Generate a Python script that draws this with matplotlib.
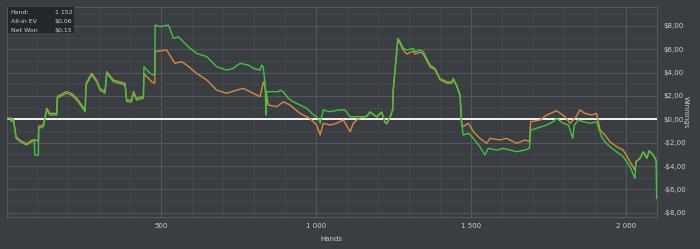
import numpy as np
import matplotlib
matplotlib.use('Agg')
import matplotlib.pyplot as plt
from matplotlib.ticker import MultipleLocator, FuncFormatter

# ── Data ──────────────────────────────────────────────────────────────────────
net_hands = [0, 10, 16, 22, 31, 44, 65, 81, 90, 91, 103, 104, 119, 130, 140, 162, 164,
             194, 210, 227, 254, 257, 275, 291, 302, 318, 324, 345, 383, 388, 404, 410,
             420, 442, 444, 464, 474, 479, 480, 496, 523, 539, 555, 587, 614, 647, 679,
             711, 733, 754, 781, 797, 819, 824, 829, 835, 838, 840, 878, 883, 894, 910,
             926, 948, 970, 986, 1007, 1013, 1023, 1045, 1072, 1093, 1110, 1131, 1147,
             1163, 1174, 1196, 1212, 1222, 1228, 1239, 1247, 1249, 1255, 1264, 1271,
             1282, 1293, 1314, 1319, 1336, 1346, 1368, 1384, 1400, 1422, 1438, 1443,
             1454, 1465, 1470, 1475, 1492, 1508, 1529, 1545, 1556, 1583, 1605, 1626,
             1648, 1675, 1689, 1693, 1712, 1745, 1766, 1777, 1798, 1815, 1829, 1834,
             1847, 1863, 1885, 1906, 1922, 1933, 1949, 1971, 1992, 2014, 2030, 2033,
             2046, 2057, 2068, 2076, 2089, 2098, 2100]
net_won = [0.0, 0.1, -0.2, 0.0, -1.63, -1.92, -2.2, -1.92, -1.83, -3.06, -3.06, -0.77,
           -0.63, 0.8, 0.37, 0.37, 1.8, 2.23, 2.08, 1.65, 0.65, 2.94, 3.8, 3.22, 2.5,
           2.23, 3.94, 3.22, 2.94, 1.51, 1.5, 2.23, 1.65, 1.8, 4.5, 3.94, 3.8, 3.9,
           8.08, 7.94, 8.08, 6.94, 7.08, 6.22, 5.65, 5.37, 4.5, 4.22, 4.37, 4.8, 4.65,
           4.37, 4.22, 4.65, 4.5, 3.08, 0.37, 2.37, 2.37, 2.5, 2.37, 1.8, 1.51, 1.22,
           0.94, 0.51, 0.08, -0.34, 0.8, 0.65, 0.8, 0.8, 0.22, 0.22, 0.22, 0.25, 0.65,
           0.22, 0.65, -0.2, -0.34, 0.22, 0.8, 2.5, 4.22, 6.94, 6.65, 6.08, 5.94, 6.08,
           5.8, 5.94, 5.8, 4.65, 4.37, 3.51, 3.22, 3.22, 3.51, 2.94, 2.08, -0.34, -1.34,
           -1.2, -1.63, -2.35, -3.06, -2.49, -2.63, -2.49, -2.63, -2.78, -2.63, -2.49,
           -0.92, -0.77, -0.49, -0.2, 0.08, -0.34, -0.49, -1.63, -0.49, -0.06, -0.2,
           -0.34, -0.2, -1.49, -1.92, -2.35, -2.78, -3.2, -4.06, -5.06, -3.63, -3.34,
           -2.78, -3.34, -2.69, -3.06, -3.49, -6.77]

ev_hands = [0, 10, 16, 22, 31, 44, 65, 81, 90, 103, 104, 119, 130, 140, 162, 164,
            194, 210, 227, 254, 257, 275, 291, 302, 318, 324, 345, 383, 388, 404, 410,
            420, 442, 444, 455, 470, 479, 480, 517, 544, 566, 582, 614, 647, 679, 711,
            743, 765, 797, 819, 830, 835, 846, 873, 894, 916, 948, 980, 1002, 1013,
            1023, 1045, 1066, 1088, 1110, 1120, 1131, 1147, 1163, 1174, 1196, 1212,
            1222, 1228, 1239, 1247, 1249, 1255, 1264, 1271, 1282, 1293, 1314, 1319,
            1336, 1346, 1368, 1384, 1400, 1422, 1438, 1443, 1454, 1465, 1470, 1475,
            1492, 1508, 1529, 1551, 1562, 1594, 1615, 1648, 1675, 1689, 1693, 1723,
            1745, 1777, 1804, 1820, 1840, 1852, 1868, 1890, 1906, 1917, 1933, 1949,
            1971, 1992, 2014, 2030, 2033, 2046, 2057, 2068, 2076, 2089, 2100]
all_in_ev = [0.05, 0.15, -0.1, 0.05, -1.5, -1.8, -2.1, -1.8, -1.75, -1.85, -0.6,
             -0.5, 0.95, 0.5, 0.5, 1.95, 2.38, 2.22, 1.8, 0.8, 3.08, 3.95, 3.35, 2.65,
             2.38, 4.08, 3.36, 3.08, 1.65, 1.65, 2.38, 1.8, 1.95, 3.9, 3.6, 3.2, 3.1,
             5.8, 5.94, 4.8, 4.94, 4.65, 3.94, 3.37, 2.5, 2.23, 2.5, 2.65, 2.23, 1.94,
             3.22, 2.8, 1.22, 1.08, 1.51, 1.22, 0.51, 0.08, -0.49, -1.34, -0.34, -0.49,
             -0.34, -0.06, -1.06, -0.34, -0.06, 0.2, 0.25, 0.6, 0.2, 0.6, -0.25, -0.4,
             0.2, 0.75, 2.45, 4.15, 6.8, 6.5, 5.9, 5.6, 5.85, 5.6, 5.75, 5.6, 4.5, 4.25,
             3.4, 3.1, 3.1, 3.4, 2.85, 2.0, -0.34, -0.63, -0.34, -1.06, -1.63, -2.06,
             -1.63, -1.77, -1.63, -2.06, -1.77, -1.92, -0.2, -0.06, 0.37, 0.74, 0.22,
             -0.34, 0.22, 0.8, 0.51, 0.37, 0.51, -0.92, -1.34, -1.92, -2.35, -2.63,
             -3.63, -4.35, -3.63, -3.34, -2.78, -3.34, -2.69, -3.06, -3.63]

info_labels = ['Hand:', 'All-in EV', 'Net Won']
info_values = ['1 152', '$0,06', '$0,15']

# ── Style ─────────────────────────────────────────────────────────────────────
BG     = '#3a3d41'
GRID_M = '#54575b'
GRID_m = '#45484c'
TXT    = '#d0d0d0'
GREEN  = '#3cc83c'
ORANGE = '#d98a3c'

def money(v, pos=None):
    s = f'{abs(v):.2f}'.replace('.', ',')
    return ('-$' if v < 0 else '$') + s

def thousands(v, pos=None):
    return f'{int(v):,}'.replace(',', ' ')

fig = plt.figure(figsize=(7, 2.49), dpi=100, facecolor=BG)
ax = fig.add_axes([0.0093, 0.1285, 0.9288, 0.8422], facecolor=BG)

ax.set_xlim(0, 2100)
ax.set_ylim(-8.37, 9.6)

ax.xaxis.set_major_locator(MultipleLocator(500))
ax.xaxis.set_minor_locator(MultipleLocator(100))
ax.yaxis.set_major_locator(MultipleLocator(2))
ax.yaxis.set_minor_locator(MultipleLocator(1))
ax.grid(which='major', color=GRID_M, lw=0.8)
ax.grid(which='minor', color=GRID_m, lw=0.6)
ax.set_axisbelow(True)

for s in ax.spines.values():
    s.set_color(GRID_M)
    s.set_linewidth(0.8)

ax.yaxis.tick_right()
ax.yaxis.set_major_formatter(FuncFormatter(money))
ax.xaxis.set_major_formatter(FuncFormatter(thousands))
ax.tick_params(which='both', length=0, colors=TXT, labelsize=5)
ax.tick_params(axis='x', pad=4)
ax.tick_params(axis='y', pad=5)
ax.set_xticks([500, 1000, 1500, 2000])
ax.set_yticks(np.arange(-8, 9, 2))

ax.set_xlabel('Hands', color=TXT, fontsize=5, labelpad=5)
fig.text(686 / 700, 1 - 112 / 249, 'Winnings', color=TXT, fontsize=5,
         rotation=270, ha='center', va='center')

ax.axhline(0, color='white', lw=1.3, zorder=3)
ax.plot(ev_hands, all_in_ev, color=ORANGE, lw=1.0, zorder=4)
ax.plot(net_hands, net_won, color=GREEN, lw=1.0, zorder=5)

# info box top-left
ax.add_patch(plt.Rectangle((0.0027, 0.877), 0.101, 0.137, transform=ax.transAxes,
                           facecolor='#24272a', edgecolor='none', zorder=6))
for i, (lab, val) in enumerate(zip(info_labels, info_values)):
    y = 0.975 - i * 0.044
    ax.text(0.0065, y, lab, transform=ax.transAxes, color=TXT, fontsize=4.5,
            va='center', ha='left', zorder=7)
    ax.text(0.101, y, val, transform=ax.transAxes, color=TXT, fontsize=4.5,
            va='center', ha='right', zorder=7)

fig.savefig('out.png', dpi=100, facecolor=BG)
